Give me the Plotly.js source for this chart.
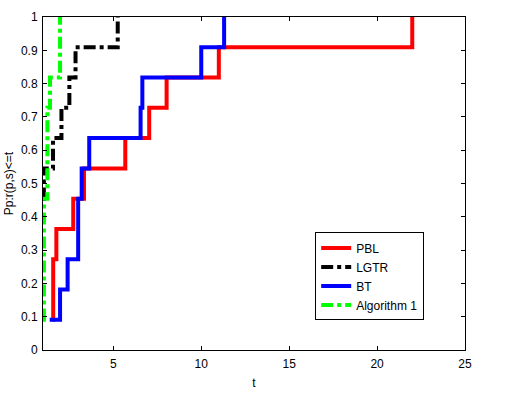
<!DOCTYPE html>
<html>
<head>
<meta charset="utf-8">
<script src="https://cdn.plot.ly/plotly-3.0.1.min.js"></script>
<style>html,body{margin:0;padding:0;background:#fff;}#chart{width:524px;height:399px;}</style>
</head>
<body>
<div id="chart"></div>
<script>
var seriesNames = ["PBL", "LGTR", "BT", "Algorithm 1"];
var pblT = [1.55, 1.58, 1.76, 2.72, 3.33, 5.68, 7.04, 8.03, 11.0, 22.0];
var pblP = [0.0909, 0.2727, 0.3636, 0.4545, 0.5454, 0.6363, 0.7272, 0.8181, 0.9090, 1.0];
var lgtrT = [1.0, 1.05, 1.57, 2.05, 2.5, 2.85, 5.25];
var lgtrP = [0.4545, 0.5454, 0.6363, 0.7272, 0.8181, 0.9090, 1.0];
var btT = [1.38, 1.97, 2.4, 3.0, 3.2, 3.63, 6.55, 6.65, 10.0, 11.3];
var btP = [0.0909, 0.1818, 0.2727, 0.4545, 0.5454, 0.6363, 0.7272, 0.8181, 0.9090, 1.0];
var algT = [1.0, 1.05, 1.25, 1.4, 1.97];
var algP = [0.0909, 0.4545, 0.7272, 0.8181, 1.0];
var xTicks = [5, 10, 15, 20, 25];
var yTicks = [0, 0.1, 0.2, 0.3, 0.4, 0.5, 0.6, 0.7, 0.8, 0.9, 1];

var FONT = "Liberation Sans, Arial, sans-serif";
function stepTrace(t, p, name, color, dash) {
  return {x: t, y: p, name: name, type: "scatter", mode: "lines",
    line: {shape: "hv", color: color, width: 4, dash: dash}};
}
var data = [
  stepTrace(pblT, pblP, seriesNames[0], "#ff0000", "solid"),
  stepTrace(lgtrT, lgtrP, seriesNames[1], "#000000", "dashdot"),
  stepTrace(btT, btP, seriesNames[2], "#0000ff", "solid"),
  stepTrace(algT, algP, seriesNames[3], "#00ff00", "dashdot")
];
var axisCommon = {showgrid: false, zeroline: false, showline: true, linecolor: "#000", linewidth: 1,
  mirror: "ticks", ticks: "inside", ticklen: 4, tickcolor: "#000",
  tickfont: {family: FONT, size: 12, color: "#000"}};
var layout = {
  width: 524, height: 399,
  margin: {l: 43, r: 59, t: 17, b: 49},
  paper_bgcolor: "#fff", plot_bgcolor: "#fff",
  showlegend: true,
  legend: {x: 0.645, y: 0.353, xanchor: "left", yanchor: "top", bordercolor: "#000", borderwidth: 1,
    bgcolor: "#fff", font: {family: FONT, size: 12, color: "#000"},
    tracegroupgap: 0, itemwidth: 30},
  xaxis: Object.assign({}, axisCommon, {range: [1, 25], tickvals: xTicks, ticktext: xTicks.map(String),
    ticklabelstandoff: 3,
    title: {text: "t", font: {family: FONT, size: 12, color: "#000"}, standoff: 8}}),
  yaxis: Object.assign({}, axisCommon, {range: [0, 1], tickvals: yTicks, ticktext: yTicks.map(String),
    ticklabelstandoff: 2,
    title: {text: "Pp:r(p,s)<=t", font: {family: FONT, size: 12, color: "#000"}, standoff: 4}})
};
Plotly.newPlot("chart", data, layout, {displayModeBar: false, staticPlot: true});
</script>
</body>
</html>
